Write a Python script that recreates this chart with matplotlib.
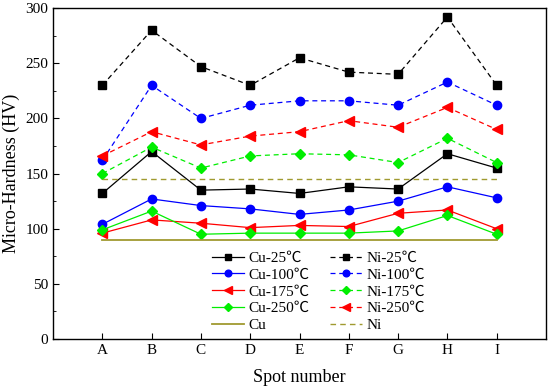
import matplotlib
matplotlib.use("Agg")
import matplotlib.pyplot as plt
from matplotlib.ticker import MultipleLocator

plt.rcParams['font.family'] = ['Liberation Serif', 'Noto Sans CJK SC', 'DejaVu Serif']

spots = ['A', 'B', 'C', 'D', 'E', 'F', 'G', 'H', 'I']

cu_25 = [132, 170, 135, 136, 132, 138, 136, 168, 155]
cu_100 = [104, 127, 121, 118, 113, 117, 125, 138, 128]
cu_175 = [96, 108, 105, 101, 103, 102, 114, 117, 100]
cu_250 = [99, 116, 95, 96, 96, 96, 98, 112, 95]
ni_25 = [230, 280, 247, 230, 255, 242, 240, 292, 230]
ni_100 = [162, 230, 200, 212, 216, 216, 212, 233, 212]
ni_175 = [150, 174, 155, 166, 168, 167, 160, 182, 160]
ni_250 = [166, 188, 176, 184, 188, 198, 192, 210, 190]
cu_base = 90
ni_base = 145

fig = plt.figure(figsize=(5.5, 3.89), dpi=100)
ax = fig.add_axes([0.0964, 0.1285, 0.8963, 0.8505])
x = list(range(1, len(spots) + 1))

ms = 5.5
lw = 0.9
h = {}
h['Cu-25'] = ax.plot(x, cu_25, '-', color='black', marker='s', ms=ms, lw=lw)[0]
h['Cu-100'] = ax.plot(x, cu_100, '-', color='blue', marker='o', ms=ms+0.5, lw=lw)[0]
h['Cu-175'] = ax.plot(x, cu_175, '-', color='red', marker='<', ms=ms+1, lw=lw)[0]
h['Cu-250'] = ax.plot(x, cu_250, '-', color='#00ee00', marker='D', ms=ms, lw=lw)[0]
h['Cu'] = ax.axhline(cu_base, xmin=0.1, xmax=0.9, color='#a09a30', lw=1.3)
h['Ni-25'] = ax.plot(x, ni_25, '--', color='black', marker='s', ms=ms, lw=lw, dashes=(4, 3))[0]
h['Ni-100'] = ax.plot(x, ni_100, '--', color='blue', marker='o', ms=ms+0.5, lw=lw, dashes=(4, 3))[0]
h['Ni-175'] = ax.plot(x, ni_175, '--', color='#00ee00', marker='D', ms=ms, lw=lw, dashes=(4, 3))[0]
h['Ni-250'] = ax.plot(x, ni_250, '--', color='red', marker='<', ms=ms+1, lw=lw, dashes=(4, 3))[0]
h['Ni'] = ax.axhline(ni_base, xmin=0.1, xmax=0.9, color='#a09a30', lw=1.0, ls='--', dashes=(4, 3))

ax.set_xlim(0, 10)
ax.set_ylim(0, 300)
ax.set_xticks(x)
ax.set_xticklabels(spots)
ax.yaxis.set_major_locator(MultipleLocator(50))
ax.yaxis.set_minor_locator(MultipleLocator(25))
ax.tick_params(direction='in', labelsize=11, length=4)
ax.tick_params(which='minor', direction='in', length=2.5)
for s in ax.spines.values():
    s.set_linewidth(1.0)

ax.set_xlabel('Spot number', fontsize=13, labelpad=9)
ax.set_ylabel('Micro-Hardness (HV)', fontsize=13)

order = ['Cu-25', 'Cu-100', 'Cu-175', 'Cu-250', 'Cu',
         'Ni-25', 'Ni-100', 'Ni-175', 'Ni-250', 'Ni']
labels = [k + '\u2103' if '-' in k else k for k in order]
ax.legend([h[k] for k in order], labels, ncol=2, frameon=False, fontsize=11,
          loc='lower left', bbox_to_anchor=(0.295, -0.02), handlelength=2.1,
          labelspacing=0.2, columnspacing=1.3, handletextpad=0.3, markerscale=0.8)

fig.savefig('out.png', dpi=100)
